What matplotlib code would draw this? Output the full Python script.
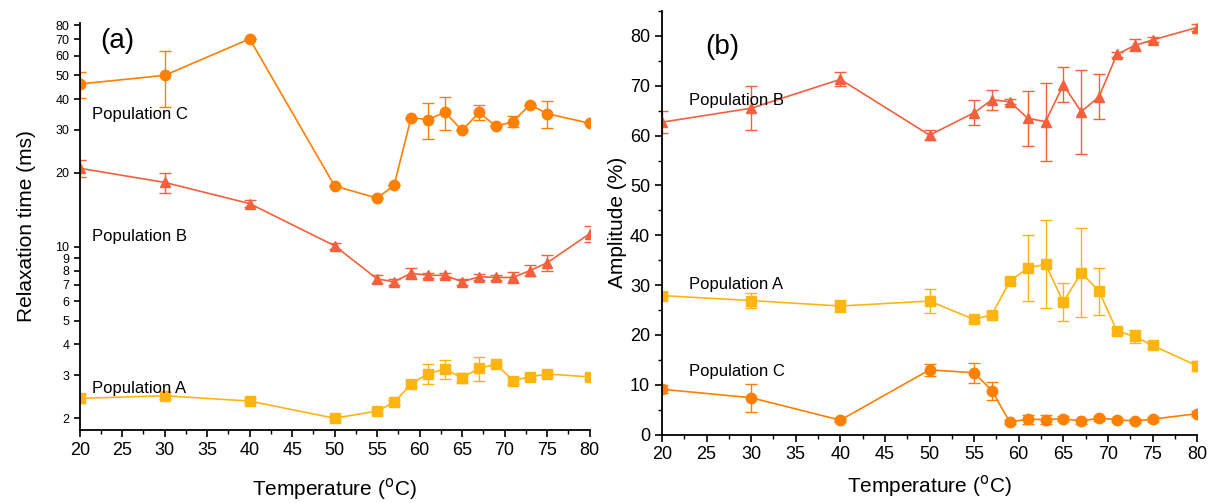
import numpy as np
import matplotlib
matplotlib.use('Agg')
import matplotlib.pyplot as plt
from matplotlib.ticker import FixedLocator, MultipleLocator, NullLocator, FuncFormatter

plt.rcParams['font.family'] = ['Liberation Sans', 'DejaVu Sans']

# temperatures (C)
temp = [20, 30, 40, 50, 55, 57, 59, 61, 63, 65, 67, 69, 71, 73, 75, 80]

# (a) relaxation time (ms)
tau_c = [46.1, 50.0, 70.4, 17.7, 15.8, 17.8, 33.6, 33.0, 35.4, 29.8, 35.3, 31.0, 32.4, 38.0, 34.9, 31.9]
tau_c_err = [5.5, 13.0, 0, 0, 0, 0, 0, 5.5, 5.5, 0, 2.5, 0, 1.7, 0, 4.3, 0]
tau_b = [20.9, 18.3, 15.0, 10.1, 7.4, 7.2, 7.8, 7.65, 7.65, 7.2, 7.55, 7.5, 7.5, 8.0, 8.6, 11.3]
tau_b_err = [1.7, 1.7, 0.5, 0.3, 0.3, 0.2, 0.4, 0.2, 0.2, 0.2, 0.2, 0.2, 0.4, 0.4, 0.65, 0.85]
tau_a = [2.41, 2.47, 2.35, 2.0, 2.14, 2.32, 2.76, 3.04, 3.17, 2.92, 3.2, 3.32, 2.85, 2.95, 3.03, 2.95]
tau_a_err = [0.1, 0.08, 0.05, 0.05, 0.05, 0.05, 0.08, 0.28, 0.28, 0.13, 0.35, 0.05, 0.1, 0.05, 0.08, 0.05]

# (b) amplitude (%)
amp_b = [62.7, 65.5, 71.3, 60.1, 64.6, 67.2, 66.8, 63.5, 62.8, 70.2, 64.8, 67.8, 76.3, 78.1, 79.2, 81.7]
amp_b_err = [2.2, 4.4, 1.4, 1.0, 2.5, 2.0, 0.5, 5.5, 7.8, 3.5, 8.4, 4.5, 0.5, 1.2, 0.5, 0.7]
amp_a = [27.9, 26.9, 25.8, 26.8, 23.1, 24.1, 30.8, 33.4, 34.2, 26.6, 32.5, 28.8, 20.8, 19.7, 17.9, 13.8]
amp_a_err = [0.8, 1.5, 1.2, 2.4, 0.5, 0.6, 0.5, 6.6, 8.8, 3.8, 8.9, 4.7, 0.6, 1.3, 0.5, 1.0]
amp_c = [9.1, 7.4, 2.9, 13.0, 12.4, 8.8, 2.5, 3.1, 3.0, 3.2, 2.7, 3.3, 3.0, 2.7, 3.1, 4.2]
amp_c_err = [0.8, 2.8, 0.3, 1.2, 2.0, 1.8, 0.4, 0.9, 0.9, 0.5, 0.5, 0.5, 0.4, 0.4, 0.5, 0.5]

col_a = '#FFB511'
col_b = '#F5603C'
col_c = '#FF8000'

fig = plt.figure(figsize=(12.08, 5.03), dpi=100)
ax1 = fig.add_axes([0.066, 0.145, 0.422, 0.81])
ax2 = fig.add_axes([0.548, 0.136, 0.443, 0.842])


def draw(ax, y, err, col, marker):
    ax.errorbar(temp, y, yerr=err, color=col, marker=marker, markersize=7.5,
                linewidth=1.2, elinewidth=1.0, capsize=4, capthick=1.0)


draw(ax1, tau_c, tau_c_err, col_c, 'o')
draw(ax1, tau_b, tau_b_err, col_b, '^')
draw(ax1, tau_a, tau_a_err, col_a, 's')

draw(ax2, amp_b, amp_b_err, col_b, '^')
draw(ax2, amp_a, amp_a_err, col_a, 's')
draw(ax2, amp_c, amp_c_err, col_c, 'o')

for ax in (ax1, ax2):
    ax.spines['top'].set_visible(False)
    ax.spines['right'].set_visible(False)
    ax.spines['left'].set_linewidth(1.3)
    ax.spines['bottom'].set_linewidth(1.3)
    ax.set_xlim(20, 80)
    ax.xaxis.set_major_locator(MultipleLocator(5))
    ax.xaxis.set_minor_locator(MultipleLocator(2.5))
    ax.tick_params(which='major', direction='out', length=5, width=1.2, labelsize=13)
    ax.tick_params(which='minor', direction='out', length=3, width=1.0)

ax1.set_xlabel('Temperature ($^{\\mathrm{o}}$C)', fontsize=15, labelpad=12)
ax2.set_xlabel('Temperature ($^{\\mathrm{o}}$C)', fontsize=15, labelpad=7)

ax1.set_yscale('log')
ax1.set_ylim(1.79, 82)
ax1.yaxis.set_major_locator(FixedLocator([2, 3, 4, 5, 6, 7, 8, 9, 10, 20, 30, 40, 50, 60, 70, 80]))
ax1.yaxis.set_minor_locator(NullLocator())
ax1.yaxis.set_major_formatter(FuncFormatter(lambda v, p: '%d' % round(v)))
ax1.tick_params(axis='y', labelsize=9, length=4)
ax1.set_ylabel('Relaxation time (ms)', fontsize=15, labelpad=14)

ax2.set_ylim(0, 85)
ax2.yaxis.set_major_locator(MultipleLocator(10))
ax2.yaxis.set_minor_locator(MultipleLocator(5))
ax2.set_ylabel('Amplitude (%)', fontsize=15, labelpad=2)

ax1.text(0.04, 0.955, '(a)', transform=ax1.transAxes, fontsize=20, va='center')
ax1.text(0.025, 0.775, 'Population C', transform=ax1.transAxes, fontsize=12, va='center')
ax1.text(0.025, 0.475, 'Population B', transform=ax1.transAxes, fontsize=12, va='center')
ax1.text(0.025, 0.102, 'Population A', transform=ax1.transAxes, fontsize=12, va='center')

ax2.text(0.08, 0.915, '(b)', transform=ax2.transAxes, fontsize=20, va='center')
ax2.text(0.05, 0.79, 'Population B', transform=ax2.transAxes, fontsize=12, va='center')
ax2.text(0.05, 0.355, 'Population A', transform=ax2.transAxes, fontsize=12, va='center')
ax2.text(0.05, 0.15, 'Population C', transform=ax2.transAxes, fontsize=12, va='center')

fig.savefig('out.png', dpi=100)
